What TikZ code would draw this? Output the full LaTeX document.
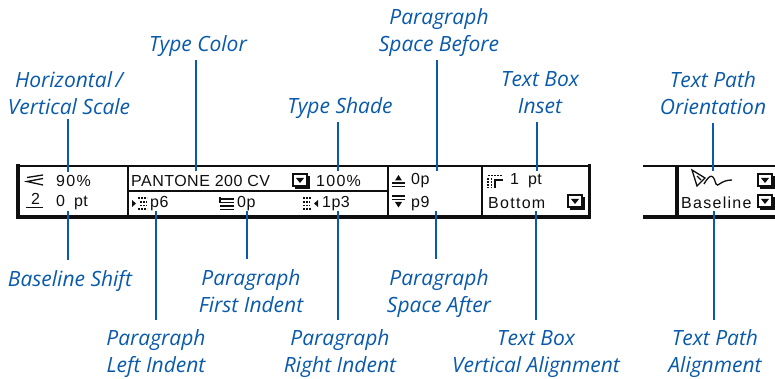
\documentclass[tikz,border=0pt]{standalone}
\usepackage{fontspec}
\setmainfont{Open Sans}
\newfontfamily\barfont[LetterSpace=3]{Liberation Sans}
\newfontfamily\barwide[LetterSpace=8]{Liberation Sans}
\definecolor{callblue}{RGB}{10,90,170}
\definecolor{barblack}{RGB}{15,15,15}
\tikzset{
 x=1pt,y=-1pt,
 lab/.style={font=\fontsize{21}{27}\selectfont\itshape,text=callblue,align=center,inner sep=0pt,text depth=0pt},
 lead/.style={draw=callblue,line width=1.1pt},
 val/.style={font=\barfont\fontsize{16}{16}\selectfont,text=barblack,inner sep=0pt,anchor=west},
 valw/.style={val,font=\barwide\fontsize{16}{16}\selectfont},
 thinb/.style={draw=barblack,line width=2pt},
 thickb/.style={draw=barblack,line width=3.4pt},
 ico/.style={draw=barblack,line width=1.3pt},
 drop/.pic={
   \fill[barblack] (-6,-5) rectangle (9,8);
   \fill[white] (-8,-7) rectangle (6,5);
   \draw[barblack,line width=1.5pt] (-8,-7) rectangle (6,5);
   \fill[barblack] (-5,-3) -- (3,-3) -- (-1,2) -- cycle;
 }
}
\begin{document}
\begin{tikzpicture}
\useasboundingbox (0,0) rectangle (775,379);
\fill[white] (0,0) rectangle (775,379);
% frames
\draw[thinb] (18,166) -- (590,166);
\draw[thickb] (18,217) -- (590,217);
\draw[thickb] (18,164.5) -- (18,218.5);
\draw[thickb] (589.5,164.5) -- (589.5,218.5);
\draw[thinb] (127.5,166) -- (127.5,217);
\draw[thinb] (387.5,166) -- (387.5,217);
\draw[thinb] (482,166) -- (482,217);
\draw[thinb] (128,191) -- (387,191);
\draw[thinb] (643,166) -- (775,166);
\draw[thickb] (643,217) -- (775,217);
\draw[thickb] (677,166) -- (677,217);
% values
\node[valw] (hs) at (56,180.5) {90\%};
\node[val] (bs) at (56,203) {0\hspace{9pt}pt};
\node[val] (pc) at (131,180.5) {PANTONE 200 CV};
\node[valw] (ts) at (316,180.5) {100\%};
\node[val] (li) at (150,204) {p6};
\node[val] (fi) at (237,204) {0p};
\node[val] (ri) at (322,204) {1p3};
\node[val] (sb) at (411,181) {0p};
\node[val] (sa) at (411,204) {p9};
\node[val] (ib) at (510,180.5) {1\hspace{9pt}pt};
\node[valw] (va) at (488,203) {Bottom};
\node[valw] (pa) at (681,203) {Baseline};
% icons
\draw[ico] (27,177.5) -- (43,175) (43,178.5) -- (27,181.5) -- (43,185);
\node[font=\barfont\fontsize{16}{16}\selectfont,text=barblack,inner sep=0pt] (two) at (35.5,199) {2};
\draw[ico] (26,207.5) -- (43,207.5);
\fill[barblack] (132,200) -- (136,203.5) -- (132,207) -- cycle;
\draw[ico,dash pattern=on 2pt off 1pt] (138,198) -- (147,198) (140,202) -- (147,202) (140,205.5) -- (147,205.5) (138,209) -- (147,209);
\draw[ico] (220,197) -- (220,203) (220,199) -- (234,199) (220,202.5) -- (234,202.5) (220,206) -- (234,206) (220,209.5) -- (234,209.5);
\draw[ico,dash pattern=on 2pt off 1pt] (303,198) -- (312,198) (303,202) -- (310,202) (303,205.5) -- (310,205.5) (303,209) -- (312,209);
\fill[barblack] (318,200) -- (314,203.5) -- (318,207) -- cycle;
\draw[ico] (392,183) -- (405,183) (392,186.5) -- (405,186.5);
\fill[barblack] (395,180.5) -- (402,180.5) -- (398.5,175) -- cycle;
\draw[ico] (392,196) -- (405,196) (392,199.5) -- (405,199.5);
\fill[barblack] (395,202) -- (402,202) -- (398.5,207.5) -- cycle;
\draw[ico,dash pattern=on 1.5pt off 1.5pt] (488,175.5) -- (502,175.5) (488,178.5) -- (488,188) (491.5,178.5) -- (491.5,188);
\draw[ico,line width=1.6pt] (495,188) -- (495,180) -- (503,180);
\draw[ico] (692,170) -- (705,178) -- (697,186) -- cycle;
\draw[ico] (697,176) -- (701,180) (704,184) .. controls (712,170) and (714,178) .. (716,184) .. controls (718,188) and (720,180) .. (732,180);
\pic at (576,202) {drop};
\pic at (301,181) {drop};
\pic at (766,181) {drop};
\pic at (766,202) {drop};
% anchors
\coordinate (tHS) at (68,172);
\coordinate (tTC) at (196,171);
\coordinate (tTS) at (338,171);
\coordinate (tSB) at (437,171);
\coordinate (tTI) at (537,171);
\coordinate (tTO) at (713,171);
\coordinate (tBS) at (68,211);
\coordinate (tLI) at (156,211);
\coordinate (tFI) at (247,211);
\coordinate (tRI) at (338,211);
\coordinate (tSA) at (436,211);
\coordinate (tVA) at (536,211);
\coordinate (tPA) at (714,211);
% labels
\node[lab] (lHS) at (69,93) {Horizontal\,/\\Vertical Scale};
\node[lab] (lTC) at (198,44) {Type Color};
\node[lab] (lTS) at (340,106) {Type Shade};
\node[lab] (lSB) at (439,30) {Paragraph\\Space Before};
\node[lab] (lTI) at (540,93) {Text Box\\Inset};
\node[lab] (lTO) at (713,93) {Text Path\\Orientation};
\node[lab] (lBS) at (70,278) {Baseline Shift};
\node[lab] (lFI) at (251,291) {Paragraph\\First Indent};
\node[lab] (lSA) at (439,291) {Paragraph\\Space After};
\node[lab] (lLI) at (156,351.5) {Paragraph\\Left Indent};
\node[lab] (lRI) at (340,351.5) {Paragraph\\Right Indent};
\node[lab] (lVA) at (536,351.5) {Text Box\\Vertical Alignment};
\node[lab] (lPA) at (715,351.5) {Text Path\\Alignment};
% leaders
\draw[lead] ([yshift=-4pt]lHS.south -| tHS) -- (tHS);
\draw[lead] ([yshift=-8pt]lTC.south -| tTC) -- (tTC);
\draw[lead] ([yshift=-8pt]lTS.south -| tTS) -- (tTS);
\draw[lead] ([yshift=-8pt]lSB.south -| tSB) -- (tSB);
\draw[lead] ([yshift=-8pt]lTI.south -| tTI) -- (tTI);
\draw[lead] ([yshift=-8pt]lTO.south -| tTO) -- (tTO);
\draw[lead] ([yshift=10pt]lBS.north -| tBS) -- (tBS);
\draw[lead] ([yshift=10pt]lFI.north -| tFI) -- (tFI);
\draw[lead] ([yshift=10pt]lSA.north -| tSA) -- (tSA);
\draw[lead] ([yshift=10pt]lLI.north -| tLI) -- (tLI);
\draw[lead] ([yshift=10pt]lRI.north -| tRI) -- (tRI);
\draw[lead] ([yshift=10pt]lVA.north -| tVA) -- (tVA);
\draw[lead] ([yshift=10pt]lPA.north -| tPA) -- (tPA);
\end{tikzpicture}
\end{document}
